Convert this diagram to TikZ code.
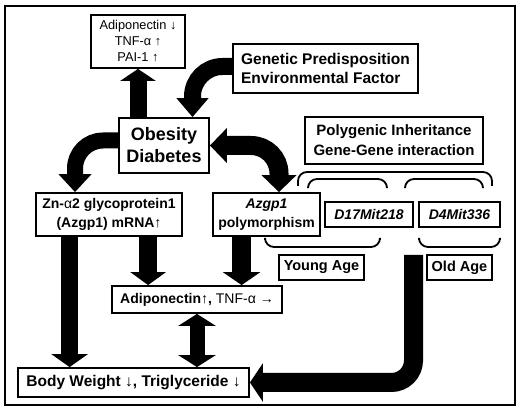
\documentclass[tikz,border=0pt]{standalone}
\usepackage{fontspec}
\setmainfont{Liberation Sans}
\usetikzlibrary{arrows.meta}
\newcommand\fsz[2]{\fontsize{#1}{#2}\selectfont}
\tikzset{
  box/.style={draw, line width=1.8pt, inner sep=0pt, align=center, font=\bfseries},
  fat/.style={line width=#1, line cap=butt},
  tipend/.style 2 args={arrows={-Triangle[width=#1,length=#2]}},
  tipboth/.style 2 args={arrows={Triangle[width=#1,length=#2]-Triangle[width=#1,length=#2]}},
  brk/.style={line width=1.8pt, rounded corners=9pt},
}
\begin{document}
\begin{tikzpicture}[x=1pt,y=-1pt]
\useasboundingbox (0,0) rectangle (520,411);
\draw[line width=2pt] (5,6) rectangle (515,405);

% boxes
\node[box, font=\mdseries\fsz{12.8}{16}, minimum width=94pt, minimum height=53pt] (top) at (138,41.5)
  {\raisebox{0pt}[\height][0pt]{}Adiponectin ↓\\TNF-α ↑\\PAI-1 ↑};
\node[box, font=\bfseries\fsz{15.5}{19.5}, align=left, minimum width=185pt, minimum height=49pt] (gen) at (325.5,68.5)
  {Genetic Predisposition\\Environmental Factor};
\node[box, font=\bfseries\fsz{18}{22}, minimum width=90pt, minimum height=55pt] (obes) at (164,145.5)
  {Obesity\\Diabetes};
\node[box, font=\bfseries\fsz{15}{20}, minimum width=178pt, minimum height=47pt] (poly) at (394,140.5)
  {Polygenic Inheritance\\Gene-Gene interaction};
\node[box, font=\bfseries\fsz{14}{19}, minimum width=146pt, minimum height=43pt] (zn) at (109,214.5)
  {Zn-\textmd{α}2 glycoprotein1\\(Azgp1) mRNA\textmd{↑}};
\node[box, font=\bfseries\fsz{14}{19}, minimum width=107pt, minimum height=43pt] (azg) at (266.5,214.5)
  {\textit{Azgp1}\\polymorphism};
\node[box, font=\bfseries\itshape\fsz{14}{17}, minimum width=88pt, minimum height=25pt] (d17) at (369,214.5)
  {D17Mit218};
\node[box, font=\bfseries\itshape\fsz{14}{17}, minimum width=81pt, minimum height=25pt] (d4) at (459.5,214.5)
  {D4Mit336};
\node[box, font=\bfseries\fsz{14.5}{17}, minimum width=85pt, minimum height=25pt] (young) at (321.5,267.5)
  {Young Age};
\node[box, font=\bfseries\fsz{14.5}{17}, minimum width=65pt, minimum height=25pt] (old) at (459.5,267.5)
  {Old Age};
\node[box, font=\bfseries\fsz{14}{17}, minimum width=170pt, minimum height=27pt] (adip) at (197,299.5)
  {Adiponectin\textmd{↑}, \textmd{TNF-α →}};
\node[box, font=\bfseries\fsz{15.5}{18}, minimum width=231pt, minimum height=29pt] (body) at (133.5,382.5)
  {Body Weight \textmd{↓}, Triglyceride \textmd{↓}};

% brackets
\draw[brk] (298,186) -- (298,172) -- (492,172) -- (492,186);
\draw[brk] (308,187) -- (308,179) -- (387,179) -- (387,187);
\draw[brk] (405,187) -- (405,179) -- (483,179) -- (483,187);
\draw[brk] (265,240) -- (265,247) -- (380,247) -- (380,240);
\draw[brk] (419,240) -- (419,247) -- (500,247) -- (500,240);

% straight arrows
\draw[fat=17pt, tipend={35pt}{12pt}] (obes.north -| top.south) -- (top.south);
\draw[fat=17pt, tipend={36pt}{13pt}] ([xshift=34.5pt]zn.south west) coordinate (z1) -- (z1 |- body.north);
\draw[fat=18pt, tipend={35pt}{13pt}] ([xshift=113pt]zn.south west) coordinate (z2) -- (z2 |- adip.north);
\draw[fat=19pt, tipend={37pt}{13pt}] ([xshift=29.5pt]azg.south west) coordinate (a1) -- (a1 |- adip.north);
\draw[fat=15pt, tipboth={37pt}{12pt}] (adip.south) -- (adip.south |- body.north);

% curved arrows
\draw[fat=17pt, rounded corners=30pt, tipend={31pt}{19pt}] ([yshift=2pt]gen.west) -| ([xshift=28.5pt]obes.north);
\draw[fat=16pt, rounded corners=28pt, tipend={32pt}{18pt}] ([yshift=5pt]obes.west) -| ([xshift=-34pt]zn.north);
\draw[fat=19pt, rounded corners=28pt, tipboth={34pt}{17pt}] (obes.east) -| ([xshift=12.5pt]azg.north);
\coordinate (ost) at (413.5,255);
\draw[fat=19pt, rounded corners=22pt, tipend={38pt}{13pt}] (ost) |- (body.east);
\end{tikzpicture}
\end{document}
